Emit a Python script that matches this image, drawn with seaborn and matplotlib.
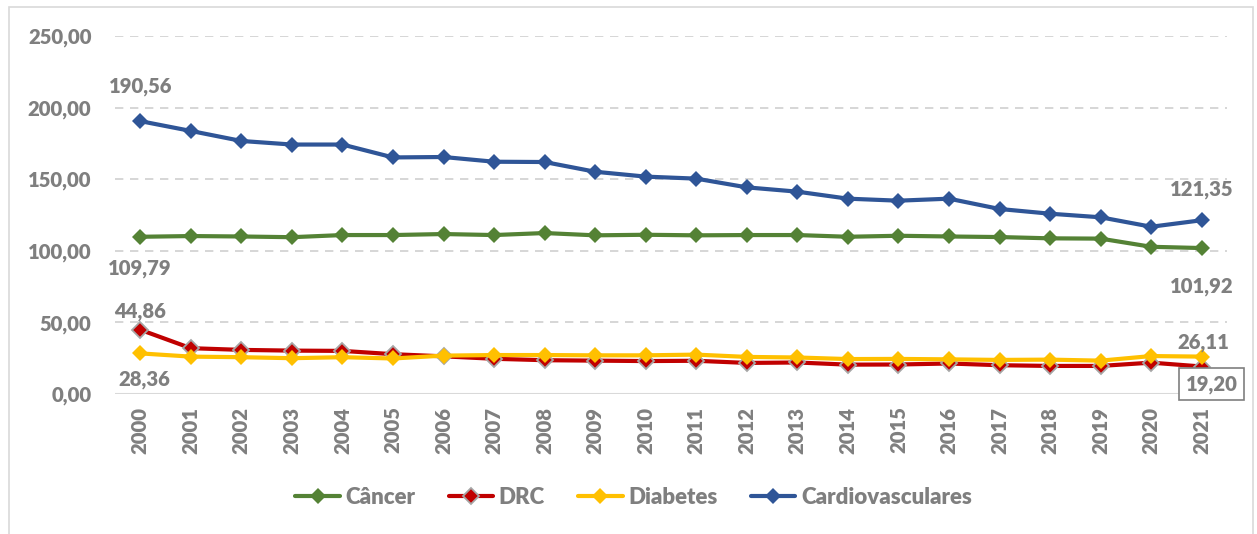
import matplotlib
matplotlib.use("Agg")
import matplotlib.pyplot as plt
import numpy as np
import pandas as pd
import seaborn as sns
from matplotlib.lines import Line2D
from matplotlib.patches import Rectangle

sns.set_theme(style="white")
plt.rcParams["font.family"] = ["Lato", "DejaVu Sans"]

# ---------------------------------------------------------------------------
# Data
# ---------------------------------------------------------------------------
years = list(range(2000, 2022))
cancer = [109.79, 110.3, 110.0, 109.5, 111.0, 111.0, 111.7, 111.0, 112.4, 110.8, 111.2,
          110.8, 111.0, 111.0, 109.8, 110.5, 110.0, 109.6, 108.7, 108.5, 102.8, 101.92]
drc = [44.86, 32.0, 30.8, 30.3, 30.1, 27.8, 26.3, 24.6, 23.6, 23.3, 23.0,
       23.2, 21.7, 22.0, 20.5, 20.6, 21.3, 20.1, 19.6, 19.6, 21.9, 19.20]
diabetes = [28.36, 26.1, 25.7, 25.0, 25.7, 24.8, 26.8, 27.2, 27.2, 27.0, 27.0,
            27.5, 25.9, 25.5, 24.4, 24.5, 24.2, 23.8, 24.0, 23.3, 26.5, 26.11]
cardio = [190.56, 183.7, 176.7, 174.2, 174.2, 165.2, 165.5, 162.2, 162.0, 155.2, 151.8,
          150.4, 144.3, 141.3, 136.4, 135.0, 136.4, 129.2, 125.9, 123.4, 116.8, 121.35]

series_names = ["Câncer", "DRC", "Diabetes", "Cardiovasculares"]
colors = ["#548235", "#C00000", "#FFC000", "#2F5597"]
y_ticks = [0, 50, 100, 150, 200, 250]

df = pd.DataFrame({"ano": years, "Câncer": cancer, "DRC": drc,
                   "Diabetes": diabetes, "Cardiovasculares": cardio})
long = df.melt(id_vars="ano", var_name="serie", value_name="valor")

GRAY = "#7F7F7F"
FS = 14.6


def br(v):
    return f"{v:.2f}".replace(".", ",")


fig = plt.figure(figsize=(12.57, 5.34), dpi=100)
fig.patches.append(Rectangle((9 / 1257, -0.1), 1244 / 1257, 1 - 7 / 534 + 0.1,
                             transform=fig.transFigure, fill=False,
                             edgecolor="#D9D9D9", linewidth=1.2))
ax = fig.add_axes([115 / 1257, 1 - 394 / 534, (1227 - 115) / 1257, (394 - 36) / 534])

sns.lineplot(data=long, x="ano", y="valor", hue="serie", hue_order=series_names,
             palette=colors, style="serie", markers=["D"] * 4, dashes=False,
             markersize=8, linewidth=3, markeredgewidth=0, legend=False, ax=ax)

handles = []
for line, name, c in zip(ax.lines, series_names, colors):
    line.set_markeredgecolor(c)
    if name == "DRC":
        line.set_markeredgecolor("#A6A6A6")
        line.set_markeredgewidth(1.3)
    handles.append(Line2D([], [], color=c, lw=3, marker="D", markersize=8,
                          markeredgecolor=line.get_markeredgecolor(),
                          markeredgewidth=line.get_markeredgewidth()))

ax.set_xlim(1999.5, 2021.5)
ax.set_ylim(0, 250)
ax.set_yticks(y_ticks)
ax.set_yticklabels([br(v) for v in y_ticks])
ax.set_xticks(years)
ax.set_xticklabels([str(y) for y in years], rotation=90)
ax.tick_params(axis="both", length=0, labelsize=FS, labelcolor=GRAY)
ax.tick_params(axis="y", pad=17)
ax.tick_params(axis="x", pad=9)
for lab in ax.get_xticklabels() + ax.get_yticklabels():
    lab.set_fontweight("heavy")
ax.set_xlabel("")
ax.set_ylabel("")
for v in y_ticks[1:]:
    ax.axhline(v, color="#D0D0D0", lw=1.2, ls=(0, (5, 4)), zorder=0)
ax.axhline(0, color="#D9D9D9", lw=1.5, zorder=0)
for s in ax.spines.values():
    s.set_visible(False)

# data labels at first and last points
lab_kw = dict(fontsize=FS, fontweight="heavy", color=GRAY, ha="center")
ax.annotate(br(cardio[0]), (years[0], cardio[0]), xytext=(0, 18),
            textcoords="offset points", va="bottom", **lab_kw)
ax.annotate(br(cancer[0]), (years[0], cancer[0]), xytext=(0, -16),
            textcoords="offset points", va="top", **lab_kw)
ax.annotate(br(drc[0]), (years[0], drc[0]), xytext=(0, 6),
            textcoords="offset points", va="bottom", **lab_kw)
ax.annotate(br(diabetes[0]), (years[0], diabetes[0]), xytext=(3, -12),
            textcoords="offset points", va="top", **lab_kw)
ax.annotate(br(cardio[-1]), (years[-1], cardio[-1]), xytext=(0, 15),
            textcoords="offset points", va="bottom", **lab_kw)
ax.annotate(br(cancer[-1]), (years[-1], cancer[-1]), xytext=(0, -21),
            textcoords="offset points", va="top", **lab_kw)
ax.annotate(br(diabetes[-1]), (years[-1], diabetes[-1]), xytext=(1, 3),
            textcoords="offset points", va="bottom", **lab_kw)
ax.annotate(br(drc[-1]), (years[-1], drc[-1]), xytext=(7, -6),
            textcoords="offset points", va="top", annotation_clip=False,
            bbox=dict(boxstyle="square,pad=0.32", fc="white", ec="#7F7F7F", lw=1.2),
            **lab_kw)

leg = fig.legend(handles, series_names, loc="center", bbox_to_anchor=(0.504, 1 - 497 / 534),
                 ncol=4, frameon=False, handlelength=2.0, handletextpad=0.25,
                 columnspacing=1.5, prop={"size": 16, "weight": "heavy"})
for t in leg.get_texts():
    t.set_color(GRAY)

fig.savefig("out.png", dpi=100)
